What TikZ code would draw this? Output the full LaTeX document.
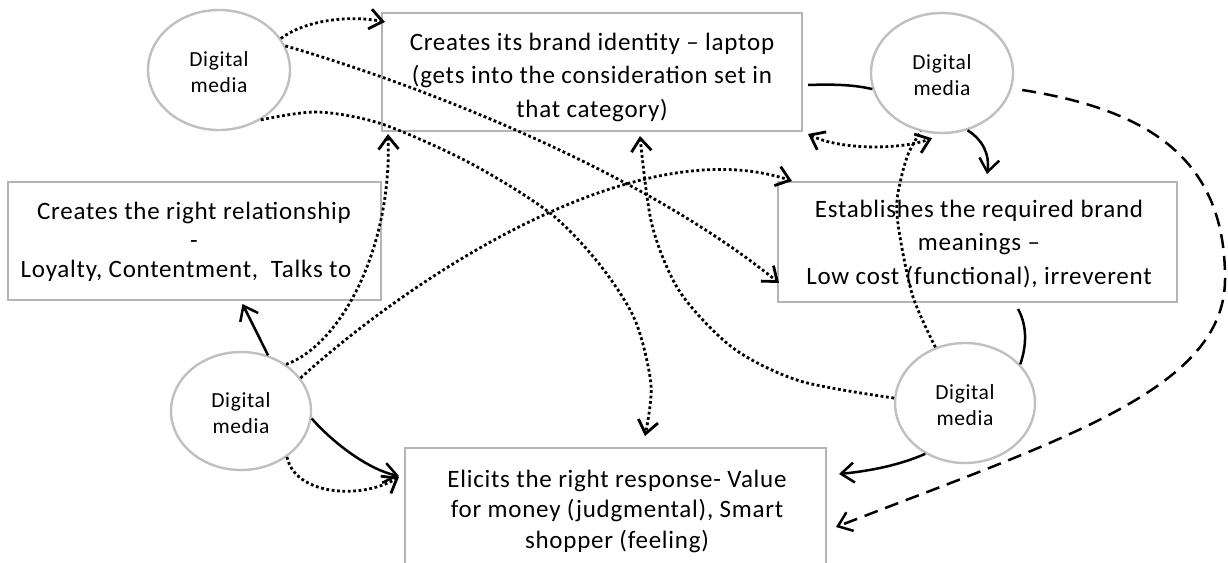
\documentclass[tikz,border=0pt]{standalone}
\usepackage{fontspec}
\setmainfont{Carlito}[LetterSpace=3]
\usetikzlibrary{shapes.geometric,arrows.meta,calc}
\definecolor{framegray}{RGB}{180,180,180}
\definecolor{ringgray}{RGB}{192,192,192}

\begin{document}
\begin{tikzpicture}[x=1pt,y=-1pt,
  >={Straight Barb[length=13pt,width=20pt]},
  box/.style={rectangle, draw=framegray, line width=2pt, inner sep=0pt},
  media/.style={ellipse, draw=ringgray, line width=2.4pt, inner sep=0pt, align=center,
                font=\fontsize{21.5}{26}\selectfont},
  boxlabel/.style={anchor=north, inner sep=0pt, align=center},
  link/.style={line width=2.5pt, line join=round},
  dots/.style={link, line width=2.8pt, dash pattern=on 2.8pt off 2.6pt},
  dashes/.style={link, dash pattern=on 14pt off 8pt}]

\useasboundingbox (0,0) rectangle (1228,562);

% outcome boxes
\node[box, minimum width=420pt, minimum height=118pt] (identity) at (592,72) {};
\node[box, minimum width=373pt, minimum height=118pt] (relation) at (194.5,241) {};
\node[box, minimum width=399pt, minimum height=120pt] (meaning)  at (977.5,242) {};
\node[box, minimum width=421pt, minimum height=140pt] (response) at (615.5,518) {};

% box texts (first baseline 20pt below the anchor)
\node[boxlabel, font=\fontsize{25}{33.5}\selectfont] (identity-text) at (592,30)
  {\rule{0pt}{20pt}Creates its brand identity – laptop\\(gets into the consideration set in\\that category)};
\node[boxlabel, font=\fontsize{25}{29}\selectfont] (relation-text) at (194,199)
  {\rule{0pt}{20pt}Creates the right relationship\\-\\Loyalty, Contentment,\ \ Talks to\hspace*{16pt}};
\node[boxlabel, font=\fontsize{25}{33.5}\selectfont] (meaning-text) at (979,197)
  {\rule{0pt}{20pt}Establishes the required brand\\meanings –\\Low cost (functional), irreverent};
\node[boxlabel, font=\fontsize{25}{30.5}\selectfont] (response-text) at (617,467)
  {\rule{0pt}{20pt}Elicits the right response- Value\\for money (judgmental), Smart\\shopper (feeling)};

% digital media ellipses
\node[media, minimum width=142pt, minimum height=120pt] (dm1) at (219,70)  {\rule{0pt}{20pt}Digital\\media};
\node[media, minimum width=142pt, minimum height=120pt] (dm2) at (942,73)  {\rule{0pt}{20pt}Digital\\media};
\node[media, minimum width=140pt, minimum height=118pt] (dm3) at (241,411) {\rule{0pt}{20pt}Digital\\media};
\node[media, minimum width=140pt, minimum height=120pt] (dm4) at (965,403) {\rule{0pt}{20pt}Digital\\media};

% connectors from the top-left medium
\draw[dots,->] (dm1.27) .. controls (305,20) and (350,15) .. ($(identity.north west)+(4,10)$);
\draw[dots,->] (dm1.20) .. controls (420,85) and (640,170) .. ($(meaning.south west)+(2,-20)$);
\draw[dots,->] plot[smooth] coordinates {(dm1.310) (317,112) (382,124) (470,163) (550,213) (600,265) (635,320) (651,385) ($(response.north west)+(241,-11)$)};

% connectors from the bottom-left medium
\draw[link,->] (dm3.64) -- ($(relation.south)+(48,3)$);
\draw[dots,->] (dm3.46) .. controls (340,345) and (392,250) .. ($(identity.south west)+(7,2)$);
\draw[dots,->] (dm3.29) .. controls (420,270) and (640,130) .. ($(meaning.north west)+(15,0)$);
\draw[link,->] (dm3.-6) .. controls (335,445) and (370,470) .. ($(response.north west)+(-5,29)$);
\draw[dots,->] (dm3.-45) .. controls (295,495) and (360,500) .. ($(response.north west)+(-5,30)$);

% connectors around the top-right medium
\draw[link] ($(identity.east)+(5,13)$) .. controls (835,84) and (855,85) .. (dm2.193);
\draw[dots,<->] ($(identity.south east)+(5,2)$) .. controls (840,150) and (900,150) .. ($(dm2.south)+(-10,4)$);
\draw[link,->] (dm2.-66) .. controls (983,140) and (990,155) .. ($(meaning.north west)+(210,-7)$);
\coordinate (loop) at (1225,280);
\draw[dashes,->] ($(dm2.east)+(8,17)$) .. controls (1150,110) and (1226,160) .. (loop)
  .. controls (1224,390) and (1060,440) .. ($(response.north east)+(9,80)$);

% connectors around the bottom-right medium
\draw[dots,->] plot[smooth] coordinates {(dm4.176) (800,381) (733,348) (680,292) (652,225) ($(identity.south)+(48,4)$)};
\draw[dots] plot[smooth] coordinates {(dm4.118) (913,297) (900,237) (897,200) (907,157) (dm2.250)};
\draw[link] ($(meaning.south east)+(-160,6)$) .. controls (1027,325) and (1027,345) .. (dm4.35);
\draw[link,->] (dm4.232) .. controls (900,465) and (870,471) .. ($(response.north east)+(12,27)$);

\end{tikzpicture}
\end{document}
